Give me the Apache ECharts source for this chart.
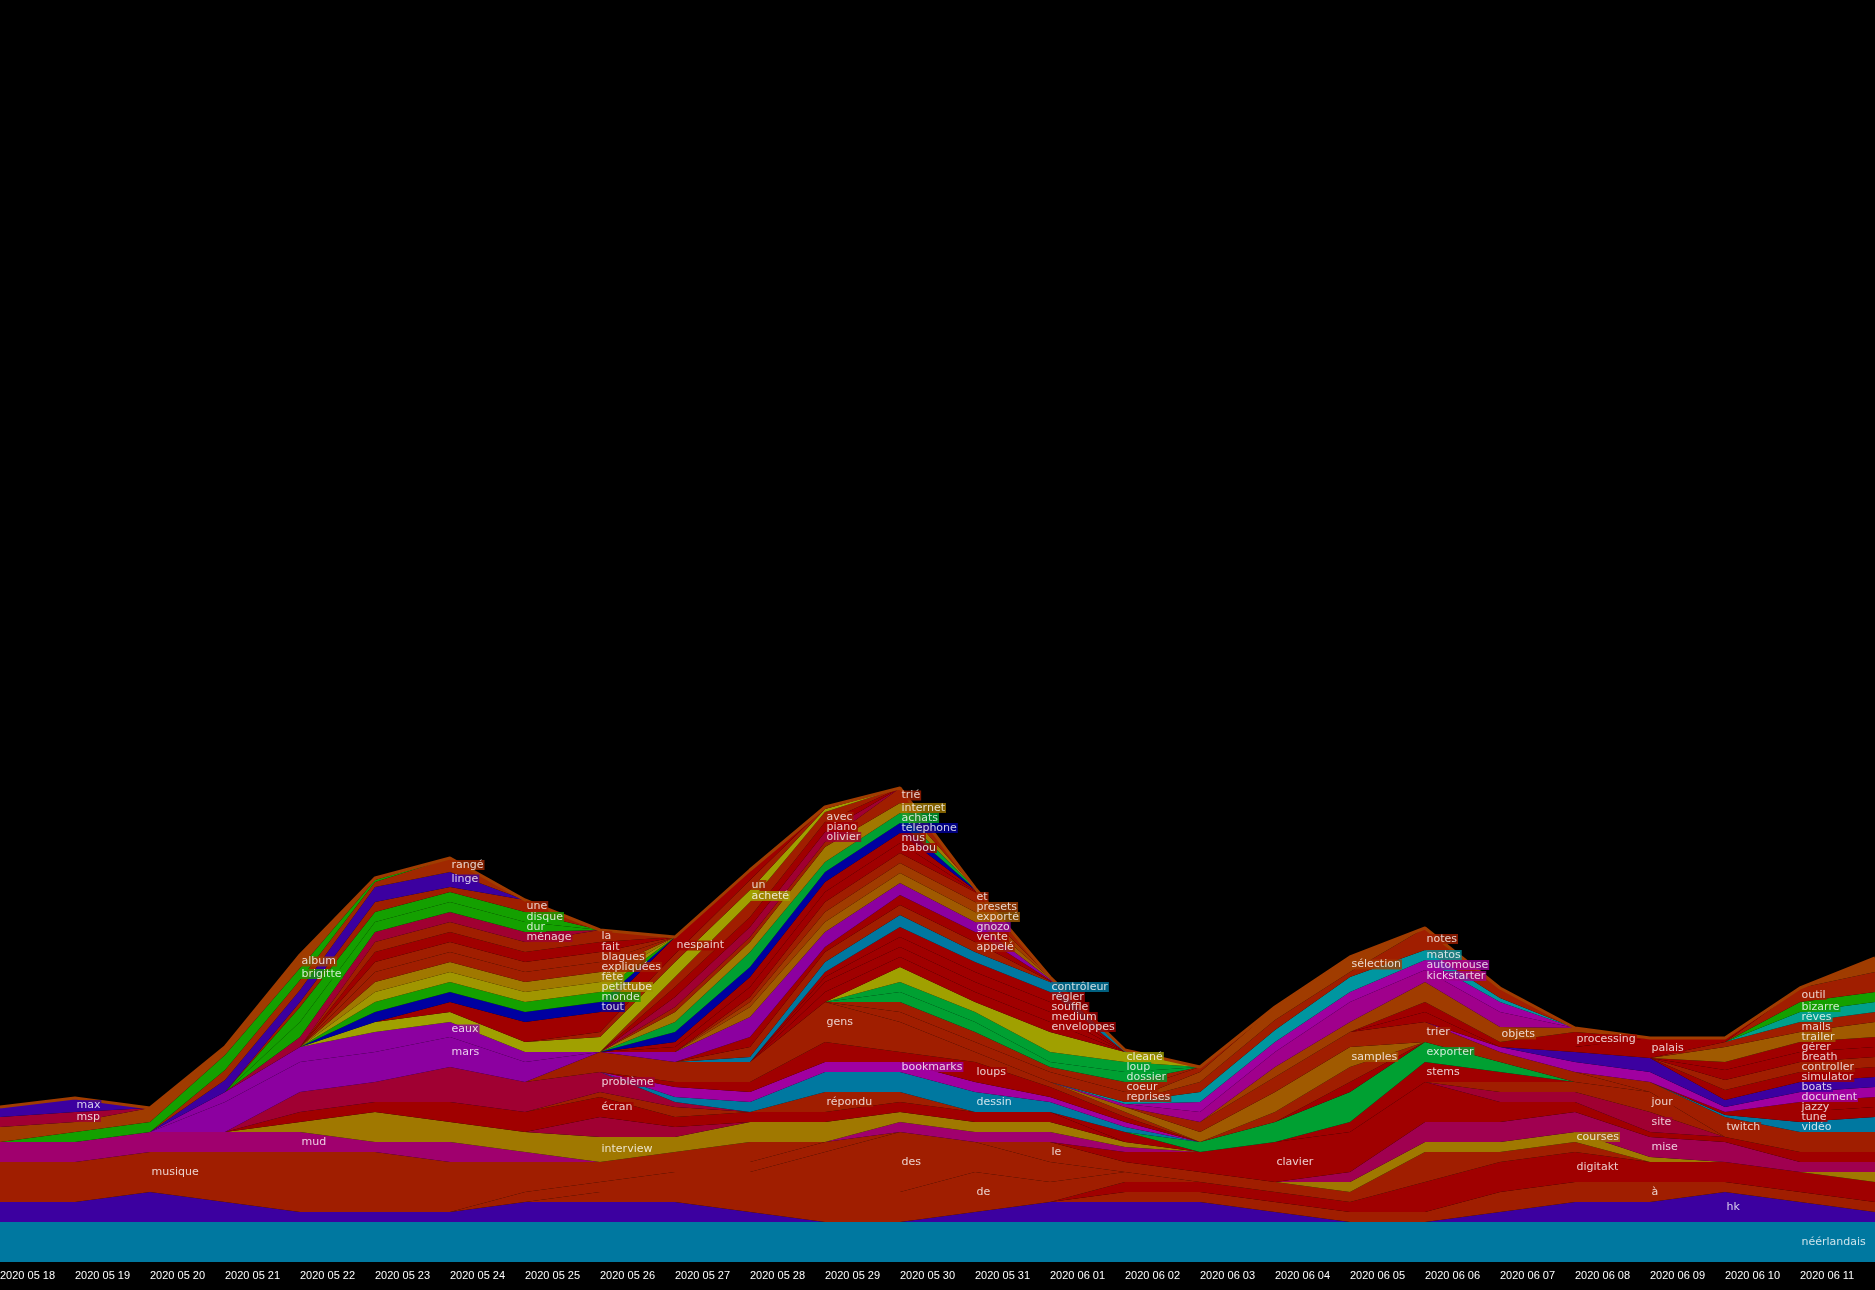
<!DOCTYPE html>
<html><head><meta charset="utf-8">
<script src="https://cdn.jsdelivr.net/npm/echarts@6/dist/echarts.min.js"></script>
<style>html,body{margin:0;padding:0;background:#000;}#c{width:1875px;height:1290px;}</style>
</head><body><div id="c"></div>
<script>
// ---- tick labels (categories) ----
const dates = ['2020 05 18','2020 05 19','2020 05 20','2020 05 21','2020 05 22','2020 05 23','2020 05 24','2020 05 25','2020 05 26','2020 05 27','2020 05 28','2020 05 29','2020 05 30','2020 05 31','2020 06 01','2020 06 02','2020 06 03','2020 06 04','2020 06 05','2020 06 06','2020 06 07','2020 06 08','2020 06 09','2020 06 10','2020 06 11','2020 06 12'];

// ---- series values (one per word, bottom to top) ----
const w_neerlandais = [40,40,40,40,40, 40,40,40,40,40, 40,40,40,40,40, 40,40,40,40,40, 40,40,40,40,40, 40];
const w_hk          = [20,20,30,20,10, 10,10,20,20,20, 10,0,0,10,20, 20,20,10,0,0, 10,20,20,30,20, 10];
const w_a           = [0,0,0,0,0, 0,0,0,0,0, 0,0,0,0,0, 10,10,10,10,10, 20,20,20,10,10, 10];
const w_digitakt    = [0,0,0,0,0, 0,0,0,0,0, 0,0,0,0,0, 10,10,10,10,30, 30,30,20,20,20, 20];
const w_de          = [0,0,0,0,0, 0,0,0,10,10, 20,30,30,40,20, 10,0,0,0,0, 0,0,0,0,0, 0];
const w_des         = [0,0,0,0,0, 0,0,10,10,20, 20,40,60,30,20, 0,0,0,0,0, 0,0,0,0,0, 0];
const w_musique     = [40,40,40,50,60, 60,50,30,20,10, 10,10,0,0,0, 0,0,0,0,0, 0,0,0,0,0, 0];
const w_le          = [0,0,0,0,0, 0,0,0,0,10, 20,0,0,0,20, 10,10,10,10,30, 10,10,0,0,0, 0];
const w_courses     = [0,0,0,0,0, 0,0,0,0,0, 0,0,0,0,0, 0,0,0,10,10, 10,10,5,0,0, 10];
const w_mise        = [0,0,0,0,0, 0,0,0,0,0, 0,0,0,0,0, 0,0,0,10,20, 20,20,20,20,10, 10];
const w_clavier     = [0,0,0,0,0, 0,0,0,0,0, 0,0,0,0,0, 10,20,40,40,40, 20,10,5,5,10, 10];
const w_mud         = [20,20,20,20,20, 10,20,10,0,0, 0,0,10,10,10, 5,0,0,0,0, 0,0,0,0,0, 0];
const w_interview   = [0,0,0,0,10, 30,20,20,25,15, 20,20,10,10,10, 5,0,0,0,0, 0,0,0,0,0, 0];
const w_site        = [0,0,0,0,0, 0,0,0,20,10, 0,0,0,0,0, 0,0,0,0,0, 10,10,20,0,0, 0];
const w_jour        = [0,0,0,0,0, 0,0,0,0,0, 0,0,0,0,0, 0,0,0,0,0, 10,10,20,0,0, 0];
const w_ecran       = [0,0,0,0,10, 10,20,20,20,10, 10,10,10,10,10, 0,0,0,0,0, 0,0,0,0,0, 0];
const w_repondu     = [0,0,0,0,0, 0,0,0,5,10, 0,20,10,0,0, 0,0,0,0,0, 0,0,0,0,0, 0];
const w_probleme    = [0,0,0,0,20, 20,35,30,20,5, 0,0,0,0,0, 0,0,0,0,0, 0,0,0,0,0, 0];
const w_stems       = [0,0,0,0,0, 0,0,0,0,0, 0,0,0,0,0, 10,0,0,10,20, 10,0,0,0,0, 0];
const w_exporter    = [0,0,0,0,0, 0,0,0,0,0, 0,0,0,0,0, 0,10,20,30,20, 10,0,0,0,0, 0];
const w_dessin      = [0,0,0,0,0, 0,0,0,0,5, 10,20,20,20,10, 5,0,0,0,0, 0,0,0,0,0, 0];
const w_bookmarks   = [0,0,0,0,0, 0,0,0,0,10, 10,10,10,10,5, 5,0,0,0,0, 0,0,0,0,0, 0];
const w_loups       = [0,0,0,0,0, 0,0,0,0,5, 10,20,10,20,10, 5,0,0,10,0, 0,0,0,0,0, 0];
const w_gens        = [0,0,0,0,0, 0,0,0,20,20, 20,40,30,10,5, 5,0,10,15,0, 0,0,0,0,0, 0];
const w_samples     = [0,0,0,0,0, 0,0,0,0,0, 0,0,0,0,0, 5,10,20,20,0, 0,0,0,0,0, 0];
const w_trier       = [0,0,0,0,0, 0,0,0,0,0, 0,0,0,0,0, 0,10,15,15,20, 10,10,0,0,0, 0];
const w_mars        = [0,0,0,30,30, 30,30,20,0,0, 0,0,0,0,0, 0,0,0,0,0, 0,0,0,0,0, 0];
const w_eaux        = [0,0,0,10,15, 20,15,10,0,0, 0,0,0,0,0, 0,0,0,0,0, 0,0,0,0,0, 0];
const w_twitch      = [0,0,0,0,0, 0,0,0,0,0, 0,0,0,0,0, 0,0,0,0,0, 0,0,10,20,20, 20];
const w_video       = [0,0,0,0,0, 0,0,0,0,0, 0,0,0,0,0, 0,0,0,0,0, 0,0,0,2,10, 15];
const w_tune        = [0,0,0,0,0, 0,0,0,0,0, 0,0,0,0,0, 0,0,0,0,0, 0,0,0,3,10, 10];
const w_jazzy       = [0,0,0,0,0, 0,0,0,0,0, 0,0,0,0,0, 0,0,0,0,0, 0,0,0,0,10, 10];
const w_document    = [0,0,0,0,0, 0,0,0,0,0, 0,0,0,0,0, 0,0,0,0,0, 5,10,10,5,10, 10];
const w_boats       = [0,0,0,0,0, 0,0,0,0,0, 0,0,0,0,0, 0,0,0,0,0, 0,10,14,7,10, 10];
const w_simulator   = [0,0,0,0,0, 0,0,0,0,0, 0,0,0,0,0, 0,0,0,0,0, 0,0,0,10,10, 10];
const w_controller  = [0,0,0,0,0, 0,0,0,0,0, 0,0,0,0,0, 0,0,0,0,0, 0,0,0,10,10, 10];
const w_breath      = [0,0,0,0,0, 0,0,0,0,0, 0,0,0,0,0, 0,0,0,0,0, 0,0,0,10,10, 10];
const w_gerer       = [0,0,0,0,0, 0,0,0,0,0, 0,0,0,0,0, 0,0,0,0,0, 0,0,0,8,10, 10];
const w_trailer     = [0,0,0,0,0, 0,0,0,0,0, 0,0,0,0,0, 0,0,0,0,0, 0,0,0,15,10, 15];
const w_mails       = [0,0,0,0,0, 0,0,0,0,0, 0,0,0,0,0, 0,0,0,0,0, 0,0,0,5,10, 10];
const w_reves       = [0,0,0,0,0, 0,0,0,0,0, 0,0,0,0,0, 0,0,0,0,0, 0,0,0,0,10, 10];
const w_bizarre     = [0,0,0,0,0, 0,0,0,0,0, 0,0,0,0,0, 0,0,0,0,0, 0,0,0,0,10, 10];
const w_outil       = [0,0,0,0,0, 0,0,0,0,0, 0,0,0,0,0, 0,0,0,0,0, 0,0,0,0,14, 20];
const w_palais      = [0,0,0,0,0, 0,0,0,0,0, 0,0,0,0,0, 0,0,0,0,10, 0,5,20,4,0, 0];
const w_processing  = [0,0,0,0,0, 0,0,0,0,0, 0,0,0,0,0, 0,0,0,0,10, 5,15,0,0,0, 0];
const w_objets      = [0,0,0,0,0, 0,0,0,0,0, 0,0,0,0,0, 0,0,10,10,20, 15,4,0,0,0, 14];
const w_kickstarter = [0,0,0,0,0, 0,0,0,0,0, 0,0,0,0,0, 3,10,15,20,12, 15,0,0,0,0, 0];
const w_automouse   = [0,0,0,0,0, 0,0,0,0,0, 0,0,0,0,0, 0,10,10,10,10, 10,0,0,0,0, 0];
const w_matos       = [0,0,0,0,0, 0,0,0,0,0, 0,0,0,0,0, 2,10,12,15,10, 4,0,0,0,0, 0];
const w_notes       = [0,0,0,0,0, 0,0,0,0,0, 0,0,0,0,0, 0,10,10,5,22, 10,0,0,0,0, 0];
const w_selection   = [0,0,0,0,0, 0,0,0,0,0, 0,0,0,0,0, 0,10,13,15,0, 0,0,0,0,0, 0];
const w_reprises    = [0,0,0,0,0, 0,0,0,0,0, 0,0,10,10,10, 10,5,0,0,0, 0,0,0,0,0, 0];
const w_coeur       = [0,0,0,0,0, 0,0,0,0,0, 0,0,10,10,5, 10,0,0,0,0, 0,0,0,0,0, 0];
const w_dossier     = [0,0,0,0,0, 0,0,0,0,0, 0,0,10,10,5, 10,0,0,0,0, 0,0,0,0,0, 0];
const w_loup        = [0,0,0,0,0, 0,0,0,0,0, 0,0,10,10,10, 10,0,0,0,0, 0,0,0,0,0, 0];
const w_cleane      = [0,0,0,0,0, 0,0,0,0,0, 0,0,15,10,20, 10,0,0,0,0, 0,0,0,0,0, 0];
const w_enveloppes  = [0,0,0,0,0, 0,0,0,0,0, 0,10,10,10,10, 0,0,0,0,0, 0,0,0,0,0, 0];
const w_medium      = [0,0,0,0,0, 0,0,0,0,0, 0,10,10,10,10, 0,0,0,0,0, 0,0,0,0,0, 0];
const w_souffle     = [0,0,0,0,0, 0,0,0,0,0, 0,5,10,10,10, 0,0,0,0,0, 0,0,0,0,0, 0];
const w_regler      = [0,0,0,0,0, 0,0,0,0,0, 0,5,10,10,10, 0,0,0,0,0, 0,0,0,0,0, 0];
const w_controleur  = [0,0,0,0,0, 0,0,0,0,0, 5,10,12,10,10, 2,0,0,0,0, 0,0,0,0,0, 0];
const w_appele      = [0,0,0,0,0, 0,0,0,0,0, 10,10,10,10,1, 0,0,0,0,0, 0,0,0,0,0, 0];
const w_vente       = [0,0,0,0,0, 0,0,0,0,0, 10,5,10,10,1, 0,0,0,0,0, 0,0,0,0,0, 0];
const w_gnozo       = [0,0,0,0,0, 0,0,0,0,10, 20,15,12,10,1, 0,0,0,0,0, 0,0,0,0,0, 0];
const w_exporte     = [0,0,0,0,0, 0,0,0,0,0, 10,10,10,10,1, 0,0,0,0,0, 0,0,0,0,0, 0];
const w_presets     = [0,0,0,0,0, 0,0,0,0,0, 5,10,10,10,1, 0,0,0,0,0, 0,0,0,0,0, 0];
const w_et          = [0,0,0,0,0, 0,0,0,0,0, 5,10,10,10,0, 0,0,0,0,0, 0,0,0,0,0, 0];
const w_babou       = [0,0,0,0,0, 0,0,0,0,5, 10,10,10,1,0, 0,0,0,0,0, 0,0,0,0,0, 0];
const w_mus         = [0,0,0,0,0, 0,0,0,0,5, 10,10,10,1,0, 0,0,0,0,0, 0,0,0,0,0, 0];
const w_telephone   = [0,0,0,0,0, 0,0,0,0,10, 10,10,10,1,0, 0,0,0,0,0, 0,0,0,0,0, 0];
const w_achats      = [0,0,0,0,0, 0,0,0,0,10, 15,10,10,1,0, 0,0,0,0,0, 0,0,0,0,0, 0];
const w_internet    = [0,0,0,0,0, 0,0,0,0,10, 10,15,10,0,0, 0,0,0,0,0, 0,0,0,0,0, 0];
const w_trie        = [0,0,0,0,0, 0,0,0,0,5, 5,5,15,0,0, 0,0,0,0,0, 0,0,0,0,0, 0];
const w_olivier     = [0,0,0,0,0, 0,0,0,0,10, 10,10,0,0,0, 0,0,0,0,0, 0,0,0,0,0, 0];
const w_piano       = [0,0,0,0,0, 0,0,0,0,10, 10,10,0,0,0, 0,0,0,0,0, 0,0,0,0,0, 0];
const w_avec        = [0,0,0,0,0, 0,0,0,0,10, 15,10,0,0,0, 0,0,0,0,0, 0,0,0,0,0, 0];
const w_achete      = [0,0,0,0,0, 10,10,10,15,15, 12,3,0,0,0, 0,0,0,0,0, 0,0,0,0,0, 0];
const w_un          = [0,0,0,0,0, 0,0,0,5,8, 10,2,0,0,0, 0,0,0,0,0, 0,0,0,0,0, 0];
const w_nespaint    = [0,0,0,0,0, 0,10,20,20,17, 10,0,0,0,0, 0,0,0,0,0, 0,0,0,0,0, 0];
const w_tout        = [0,0,0,0,0, 10,10,10,10,0, 0,0,0,0,0, 0,0,0,0,0, 0,0,0,0,0, 0];
const w_monde       = [0,0,0,0,0, 10,10,10,10,0, 0,0,0,0,0, 0,0,0,0,0, 0,0,0,0,0, 0];
const w_petittube   = [0,0,0,0,0, 10,10,10,10,0, 0,0,0,0,0, 0,0,0,0,0, 0,0,0,0,0, 0];
const w_fete        = [0,0,0,0,0, 10,10,10,10,0, 0,0,0,0,0, 0,0,0,0,0, 0,0,0,0,0, 0];
const w_expliquees  = [0,0,0,0,0, 10,10,10,10,0, 0,0,0,0,0, 0,0,0,0,0, 0,0,0,0,0, 0];
const w_blagues     = [0,0,0,0,0, 10,10,10,10,0, 0,0,0,0,0, 0,0,0,0,0, 0,0,0,0,0, 0];
const w_fait        = [0,0,0,0,0, 10,10,10,10,0, 0,0,0,0,0, 0,0,0,0,0, 0,0,0,0,0, 0];
const w_la          = [0,0,0,0,0, 10,10,10,12,0, 0,0,0,0,0, 0,0,0,0,0, 0,0,0,0,0, 0];
const w_menage      = [0,0,0,0,10, 10,10,10,0,0, 0,0,0,0,0, 0,0,0,0,0, 0,0,0,0,0, 0];
const w_dur         = [0,0,0,0,15, 10,10,10,0,0, 0,0,0,0,0, 0,0,0,0,0, 0,0,0,0,0, 0];
const w_disque      = [0,0,0,0,15, 10,10,10,0,0, 0,0,0,0,0, 0,0,0,0,0, 0,0,0,0,0, 0];
const w_une         = [0,0,0,0,5, 10,5,12,0,0, 0,0,0,0,0, 0,0,0,0,0, 0,0,0,0,0, 0];
const w_linge       = [0,0,0,12,12, 15,15,0,0,0, 0,0,0,0,0, 0,0,0,0,0, 0,0,0,0,0, 0];
const w_range       = [0,0,0,10,10, 5,14,0,0,0, 0,0,0,0,0, 0,0,0,0,0, 0,0,0,0,0, 0];
const w_brigitte    = [0,10,10,15,12, 2,0,0,0,0, 0,0,0,0,0, 0,0,0,0,0, 0,0,0,0,0, 0];
const w_album       = [15,10,14,8,13, 2,0,0,0,0, 0,0,0,0,0, 0,0,0,0,0, 0,0,0,0,0, 0];
const w_msp         = [10,10,0,0,0, 0,0,0,0,0, 0,0,0,0,0, 0,0,0,0,0, 0,0,0,0,0, 0];
const w_max         = [10,14,0,0,0, 0,0,0,0,0, 0,0,0,0,0, 0,0,0,0,0, 0,0,0,0,0, 0];

// ---- palette ----
const R='#a01e00', DR='#a00000', CR='#a00032', MG='#a0006e', VM='#a000a0', VI='#8c00a0', PU='#3c00a0',
      BL='#0000a0', TB='#0078a0', CY='#0096a0', TG='#00a08c', GN='#00a032', BG='#14a000', YO='#a0a000',
      GO='#a07800', OR='#a05a00', OB='#a03c00', MS='#a00050', KS='#a0008c', PT='#a09600', RG='#a02800';

// [word, values, colour, index of the day where the word is written]
const streams = [
 ['néérlandais',w_neerlandais,TB,24],['hk',w_hk,PU,23],['à',w_a,R,22],['digitakt',w_digitakt,DR,21],
 ['de',w_de,R,13],['des',w_des,R,12],['musique',w_musique,R,2],['le',w_le,R,14],
 ['courses',w_courses,GO,21],['mise',w_mise,MS,22],['clavier',w_clavier,DR,17],['mud',w_mud,MG,4],
 ['interview',w_interview,GO,8],['site',w_site,CR,22],['jour',w_jour,R,22],['écran',w_ecran,DR,8],
 ['répondu',w_repondu,R,11],['problème',w_probleme,CR,8],['stems',w_stems,DR,19],['exporter',w_exporter,GN,19],
 ['dessin',w_dessin,TB,13],['bookmarks',w_bookmarks,VM,12],['loups',w_loups,DR,13],['gens',w_gens,R,11],
 ['samples',w_samples,OR,18],['trier',w_trier,R,19],['mars',w_mars,VI,6],['eaux',w_eaux,VI,6],
 ['twitch',w_twitch,R,23],['vidéo',w_video,TB,24],['tune',w_tune,DR,24],['jazzy',w_jazzy,DR,24],
 ['document',w_document,VM,24],['boats',w_boats,PU,24],['simulator',w_simulator,DR,24],['controller',w_controller,R,24],
 ['breath',w_breath,DR,24],['gérer',w_gerer,DR,24],['trailer',w_trailer,OR,24],['mails',w_mails,R,24],
 ['rêves',w_reves,TG,24],['bizarre',w_bizarre,BG,24],['outil',w_outil,R,24],
 ['palais',w_palais,DR,22],['processing',w_processing,DR,21],['objets',w_objets,OB,20],
 ['kickstarter',w_kickstarter,KS,19],['automouse',w_automouse,VM,19],['matos',w_matos,CY,19],['notes',w_notes,R,19],
 ['sélection',w_selection,OB,18],
 ['reprises',w_reprises,R,15],['coeur',w_coeur,R,15],['dossier',w_dossier,GN,15],['loup',w_loup,GN,15],['cleané',w_cleane,YO,15],
 ['enveloppes',w_enveloppes,DR,14],['medium',w_medium,DR,14],['souffle',w_souffle,DR,14],['régler',w_regler,DR,14],['contrôleur',w_controleur,TB,14],
 ['appelé',w_appele,R,13],['vente',w_vente,DR,13],['gnozo',w_gnozo,VI,13],['exporté',w_exporte,OR,13],['presets',w_presets,OB,13],['et',w_et,R,13],
 ['babou',w_babou,DR,12],['mus',w_mus,DR,12],['téléphone',w_telephone,BL,12],['achats',w_achats,GN,12],['internet',w_internet,GO,12],['trié',w_trie,R,12],
 ['olivier',w_olivier,CR,11],['piano',w_piano,DR,11],['avec',w_avec,R,11],
 ['acheté',w_achete,YO,10],['un',w_un,R,10],['nespaint',w_nespaint,DR,9],
 ['tout',w_tout,BL,8],['monde',w_monde,BG,8],['petittube',w_petittube,PT,8],['fête',w_fete,GO,8],
 ['expliquées',w_expliquees,R,8],['blagues',w_blagues,R,8],['fait',w_fait,DR,8],['la',w_la,R,8],
 ['ménage',w_menage,CR,7],['dur',w_dur,BG,7],['disque',w_disque,BG,7],['une',w_une,R,7],
 ['linge',w_linge,PU,6],['rangé',w_range,RG,6],['brigitte',w_brigitte,BG,4],['album',w_album,OB,4],
 ['msp',w_msp,CR,1],['max',w_max,PU,1]
];

// ---- build series ----
const n = dates.length;
const base = new Array(n).fill(0);
const labels = [];
const series = [];
streams.forEach(([word, vals, color, day]) => {
  labels.push({word, color, day, y: base[day] + vals[day] / 2});
  for (let i = 0; i < n; i++) base[i] += vals[i];
  series.push({
    type: 'line', name: word, stack: 'all', data: vals,
    symbol: 'none', showSymbol: false, silent: true,
    lineStyle: {width: 0}, areaStyle: {color: color, opacity: 1}, itemStyle: {color: color},
    emphasis: {disabled: true}, z: 2
  });
});
// top outline following the stack total
series.push({type: 'line', data: base.slice(), symbol: 'none', silent: true, z: 3,
  lineStyle: {width: 3, color: OB}});

// labels crowded on the same day are pushed down one line at a time
const byDay = {};
labels.forEach(l => (byDay[l.day] = byDay[l.day] || []).push(l));
Object.keys(byDay).forEach(k => {
  const arr = byDay[k].sort((p, q) => q.y - p.y);
  for (let j = 1; j < arr.length; j++) if (arr[j].y > arr[j - 1].y - 10) arr[j].y = arr[j - 1].y - 10;
});
series.push({
  type: 'scatter', z: 10, silent: true, symbolSize: 1, itemStyle: {color: 'rgba(0,0,0,0)'},
  data: labels.map(l => ({name: l.word, value: [l.day, l.y], label: {backgroundColor: l.color}})),
  label: {show: true, position: 'right', distance: 0, formatter: '{b}', color: '#ffffff',
    fontFamily: 'DejaVu Sans', fontSize: 11, lineHeight: 10, padding: [0, 1, 0, 1]}
});

const chart = echarts.init(document.getElementById('c'), null, {renderer: 'canvas'});
chart.setOption({
  backgroundColor: '#000000',
  animation: false,
  grid: {left: 0, right: 0, top: 0, bottom: 28, containLabel: false, outerBoundsMode: 'none'},
  xAxis: {type: 'category', data: dates, boundaryGap: false,
    axisLine: {show: false}, axisTick: {show: false}, splitLine: {show: false},
    axisLabel: {interval: 0, color: '#ffffff', fontFamily: 'Liberation Sans', fontSize: 11, align: 'left', margin: 8}},
  yAxis: {type: 'value', min: 0, max: 1262, show: false},
  series: series
});
</script></body></html>
